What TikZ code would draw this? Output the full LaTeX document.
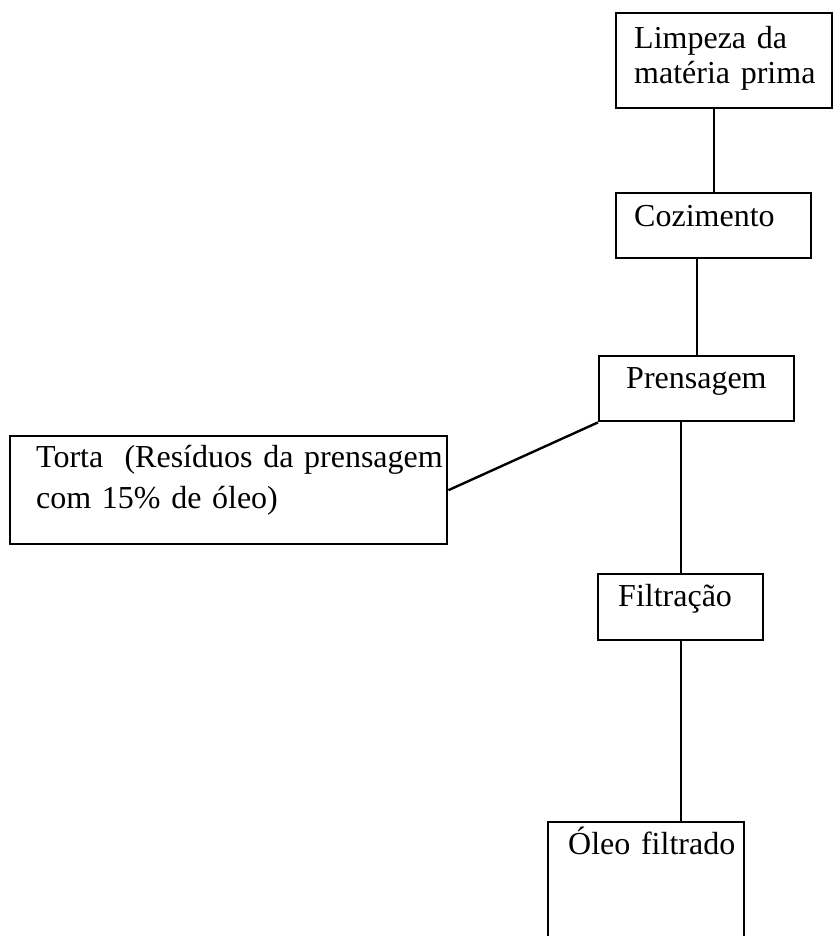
\documentclass[tikz,border=0pt]{standalone}
\usepackage{fontspec}
\setmainfont{Liberation Serif}
\usepackage{tikz}
\usetikzlibrary{calc}
\usetikzlibrary{positioning}

\tikzset{
  caixa/.style={draw, line width=2.4pt, anchor=north west, inner ysep=0pt,
    align=left, font=\fontsize{32}{35}\selectfont},
  liga/.style={line width=2.4pt}
}

\begin{document}
\begin{tikzpicture}[x=1pt, y=-1pt]
    \useasboundingbox (0,0) rectangle (833,936);
    \clip (0,0) rectangle (833,936);
    % Etapas
    \node[caixa, inner xsep=18pt, text width=180pt, text height=35pt, text depth=60pt]
      (limpeza) at (615,12) {\mbox{Limpeza da}\\\mbox{matéria prima}};
    \node[caixa, inner xsep=18pt, text width=159pt, text height=33pt, text depth=32pt]
      (coz) at (615,192) {\mbox{Cozimento}};
    \node[caixa, inner xsep=27pt, text width=141pt, text height=32pt, text depth=33pt]
      (prens) at (598,355) {\mbox{Prensagem}};
    \node[caixa, inner xsep=26pt, text width=385pt, text height=31pt, text depth=77pt,
      font=\fontsize{32}{41}\selectfont]
      (torta) at (9,435) {\mbox{Torta\ \ (Resíduos da prensagem}\\\mbox{com 15\% de óleo)}};
    \node[caixa, inner xsep=20pt, text width=125pt, text height=32pt, text depth=34pt]
      (filt) at (597,573) {\mbox{Filtração}};
    \node[caixa, inner xsep=20pt, text width=156pt, text height=32pt, text depth=200pt]
      (oleo) at (547,821) {\mbox{Óleo filtrado}};

    % Ligacoes
    \draw[liga] (coz.north) -- (coz.north |- limpeza.south);
    \draw[liga] (prens.north) -- (prens.north |- coz.south);
    \draw[liga] (filt.north) -- (filt.north |- prens.south);
    \draw[liga] (filt.south) -- (filt.south |- oleo.north);
    \draw[liga] (torta.east) -- (prens.south west);
\end{tikzpicture}
\end{document}
